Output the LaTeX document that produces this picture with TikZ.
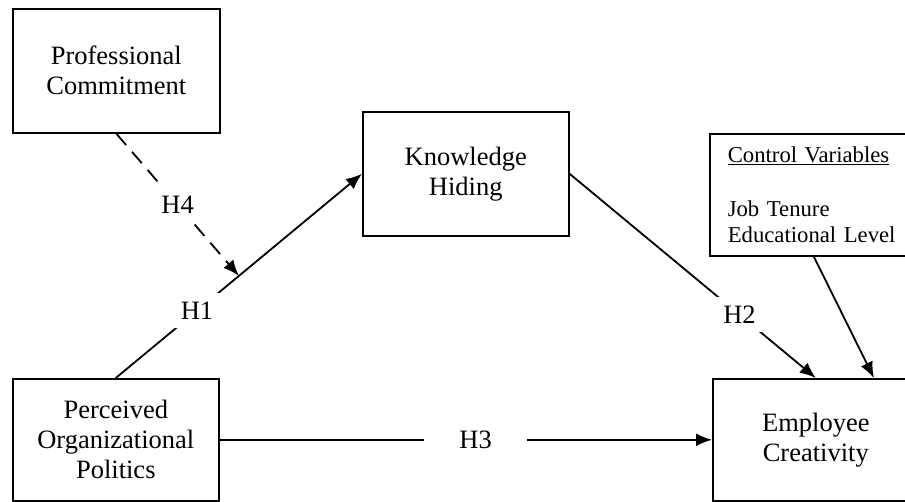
\documentclass[tikz,border=0pt]{standalone}
\usepackage{fontspec}
\setmainfont{Liberation Serif}
\usetikzlibrary{arrows.meta}
\usetikzlibrary{calc}

\begin{document}
\begin{tikzpicture}[x=1pt,y=-1pt,
  box/.style={draw,line width=1.6pt,minimum width=206pt,minimum height=124pt,
    inner sep=0pt,align=center,font=\fontsize{26.5}{30}\selectfont},
  lbl/.style={fill=white,inner sep=9pt,font=\fontsize{26.5}{30}\selectfont},
  link/.style={line width=1.8pt,-{Latex[length=16pt,width=13pt]}}]
\useasboundingbox (0,0) rectangle (905,502);
% the five boxes
\node[box,anchor=north west,minimum width=207pt] (pc) at (12,8) {Professional\\Commitment};
\node[box,anchor=north west] (kh) at (362,111) {Knowledge\\Hiding};
\node[box,anchor=north west,minimum width=208pt,minimum height=122pt,text width=172pt,
  align=left,font=\fontsize{22.7}{26}\selectfont] (ctrl) at (709,133)
  {\underline{Control Variables}\\[28pt]Job Tenure\\Educational Level};
\node[box,anchor=north west,minimum height=122pt] (pop) at (12,378) {Perceived\\Organizational\\Politics};
\node[box,anchor=north west,minimum height=122pt] (ec) at (712,378) {Employee\\Creativity};
% paths
\path (pop.north) -- (kh.west) coordinate[pos=.5] (mid);
\coordinate (ecin) at ($(ec.north)!.56!(ec.north east)$);
\draw[link] (pop.north) -- node[lbl,pos=.33]{H1} (kh.west);
\draw[link,dash pattern=on 15pt off 9pt] (pc.south) -- node[lbl]{H4} (mid);
\draw[link] (kh.east) -- node[lbl,pos=.69]{H2} (ec.north);
\draw[link] (ctrl.south) -- (ecin);
\draw[link] (pop.east) -- node[lbl,pos=.52,inner xsep=35pt]{H3} (ec.west);
\end{tikzpicture}
\end{document}
